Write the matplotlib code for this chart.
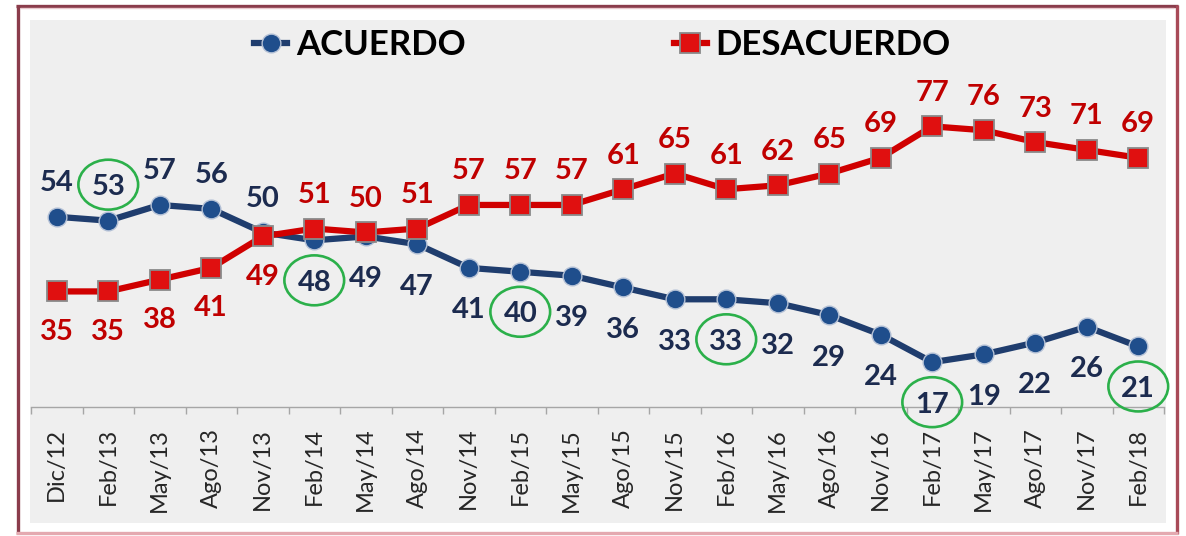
import matplotlib
matplotlib.use("Agg")
import matplotlib.pyplot as plt
from matplotlib.patches import Rectangle, Ellipse
from matplotlib.lines import Line2D
from matplotlib import transforms
import numpy as np

categories = ["Dic/12", "Feb/13", "May/13", "Ago/13", "Nov/13", "Feb/14", "May/14",
              "Ago/14", "Nov/14", "Feb/15", "May/15", "Ago/15", "Nov/15", "Feb/16",
              "May/16", "Ago/16", "Nov/16", "Feb/17", "May/17", "Ago/17", "Nov/17", "Feb/18"]
acuerdo = [54, 53, 57, 56, 50, 48, 49, 47, 41, 40, 39, 36, 33, 33, 32, 29, 24, 17, 19, 22, 26, 21]
desacuerdo = [35, 35, 38, 41, 49, 51, 50, 51, 57, 57, 57, 61, 65, 61, 62, 65, 69, 77, 76, 73, 71, 69]
# label placement: 1 = above the point, -1 = below
acuerdo_side = [1, 1, 1, 1, 1] + [-1] * 17
desacuerdo_side = [-1, -1, -1, -1, -1] + [1] * 17
circled = [1, 5, 9, 13, 17, 21]

W, H = 1186, 536
fig = plt.figure(figsize=(W / 100, H / 100), dpi=100)
fig.patch.set_facecolor("white")

# grey panel
fig.patches.append(Rectangle((30 / W, 1 - 523 / H), (1166 - 30) / W, (523 - 20) / H,
                             transform=fig.transFigure, facecolor="#efefef",
                             edgecolor="none", zorder=-5))
# frame
def fline(x0, y0, x1, y1, c, lw):
    fig.lines.append(Line2D([x0 / W, x1 / W], [1 - y0 / H, 1 - y1 / H],
                            transform=fig.transFigure, color=c, lw=lw, zorder=-4,
                            solid_capstyle="butt"))
fline(16, 5.5, 1178, 5.5, "#8a3c4b", 2.4)
fline(17.5, 5, 17.5, 534, "#8a3c4b", 2.4)
fline(1176.5, 5, 1176.5, 534, "#a84a58", 2.4)
fline(16, 532.5, 1178, 532.5, "#e4a9b0", 2.4)
fline(20, 8, 1174, 8, "#e9c9cd", 1.0)

ax = fig.add_axes([31 / W, 1 - 407 / H, (1164 - 31) / W, (407 - 20) / H])
ax.patch.set_alpha(0)
x = np.arange(len(categories))
ax.set_xlim(-0.5, len(categories) - 0.5)
ax.set_ylim(5.6, 104.05)

ax.plot(x, acuerdo, color="#1f3d6e", lw=4.5, marker="o", markersize=13.5,
        markerfacecolor="#1f4e8c", markeredgecolor="#b4c1d6", markeredgewidth=1.0,
        zorder=3, label="ACUERDO")
ax.plot(x, desacuerdo, color="#d00000", lw=4.5, marker="s", markersize=15,
        markerfacecolor="#e01010", markeredgecolor="#8a8a8a", markeredgewidth=1.3,
        zorder=4, label="DESACUERDO")

fs = 21
cap = 10.5
for i, (v, s) in enumerate(zip(acuerdo, acuerdo_side)):
    off = 36 if s > 0 else -40
    ax.annotate(str(v), (i, v), xytext=(0, off - cap), textcoords="offset pixels",
                ha="center", va="baseline", fontsize=fs, fontweight="bold",
                color="#1c2b4f", family="Lato", zorder=6)
    if i in circled:
        tr = transforms.offset_copy(ax.transData, fig=fig, x=0, y=off, units="dots")
        ax.add_patch(Ellipse((i, v), 1.16, 12.7, transform=tr, fill=False,
                             edgecolor="#2bb04a", lw=1.9, zorder=7, clip_on=False))
for i, (v, s) in enumerate(zip(desacuerdo, desacuerdo_side)):
    off = 36 if s > 0 else -38
    ax.annotate(str(v), (i, v), xytext=(0, off - cap), textcoords="offset pixels",
                ha="center", va="baseline", fontsize=fs, fontweight="bold",
                color="#c00000", family="Lato", zorder=6)

for sp in ["left", "right", "top"]:
    ax.spines[sp].set_visible(False)
ax.spines["bottom"].set_color("#a6a6a6")
ax.spines["bottom"].set_linewidth(1.0)
ax.set_yticks([])
ax.set_xticks(np.arange(len(categories) + 1) - 0.5)
ax.set_xticklabels([])
ax.tick_params(axis="x", which="major", length=5, color="#a6a6a6", width=1.0)
ax.set_xticks(x, minor=True)
ax.set_xticklabels(categories, minor=True, rotation=90, fontsize=17,
                   family="Lato", color="#262626")
ax.tick_params(axis="x", which="minor", length=0, pad=15)

leg = ax.legend(loc="center", bbox_to_anchor=(602.5 / W, 1 - 45 / H),
                bbox_transform=fig.transFigure, ncol=2, frameon=False,
                prop={"family": "Lato", "weight": "bold", "size": 25},
                handlelength=0.95, handletextpad=0.25, columnspacing=6.0,
                borderpad=0, markerscale=1.0)
for t in leg.get_texts():
    t.set_color("#000000")

fig.savefig("out.png", dpi=100)
